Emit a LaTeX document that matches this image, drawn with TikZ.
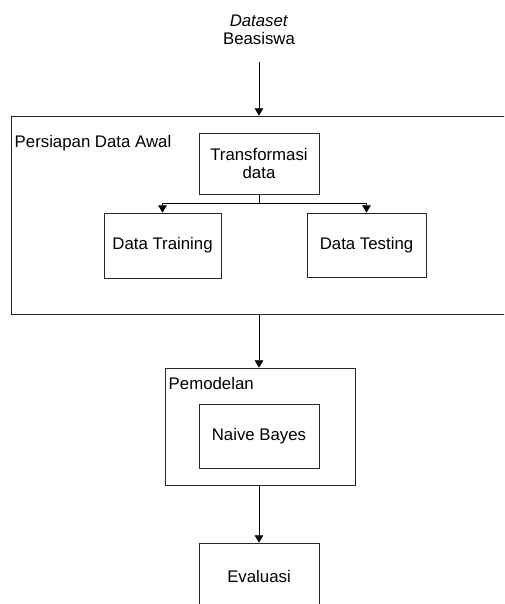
\documentclass[tikz,border=0pt]{standalone}
\usepackage{fontspec}
\setmainfont{Liberation Sans}
\usetikzlibrary{positioning,arrows.meta}

\begin{document}
\begin{tikzpicture}[
      x=0.75pt,y=-0.75pt,
      >={Triangle[length=5.5pt,width=6.5pt]},
      font=\fontsize{12.6}{13.5}\selectfont,
      blok/.style={draw=black!85,line width=0.6pt,align=center,
        inner sep=0pt},
      grup/.style={draw=black!85,line width=0.6pt,inner sep=0pt},
      flow/.style={draw=black,line width=0.6pt,->}
    ]
    \useasboundingbox (0,0) rectangle (504,604);
    \clip (0,0) rectangle (504,604);
    \node[align=center] (src) at (259,30) {\textit{Dataset}\\Beasiswa};
    \coordinate (srcend) at (259,62);
    % persiapan data awal
    \node[grup,minimum width=370.5pt,minimum height=148.5pt] (prep) at (258,215) {};
    \node[anchor=west] (preplbl) at (10,143) {Persiapan Data Awal};
    \node[blok,minimum width=90pt,minimum height=45.75pt] (trans) at (259,163.5)
      {Transformasi\\data};
    \node[blok,minimum width=87.75pt,minimum height=48.75pt] (train) at (162.5,245.5)
      {Data Training};
    \node[blok,minimum width=89.25pt,minimum height=48pt] (test) at (366.5,245)
      {Data Testing};
    \coordinate (split) at (259,203);
    % pemodelan
    \node[grup,minimum width=142.5pt,minimum height=87.75pt] (model) at (260,426.5) {};
    \node[anchor=west] (modellbl) at (164,383) {Pemodelan};
    \node[blok,minimum width=90pt,minimum height=48pt] (nb) at (259,436)
      {Naive Bayes};
    \node[blok,minimum width=90pt,minimum height=49.5pt] (eval) at (259,576)
      {Evaluasi};
    \draw[flow] (srcend) -- (srcend |- prep.north);
    \draw[line width=0.6pt] (trans.south) -- (split);
    \draw[flow] (split) -| (train.north);
    \draw[flow] (split) -| (test.north);
    \draw[flow] (prep.south -| nb.north) -- (model.north -| nb.north);
    \draw[flow] (model.south -| nb.south) -- (eval.north);
  \end{tikzpicture}
\end{document}
